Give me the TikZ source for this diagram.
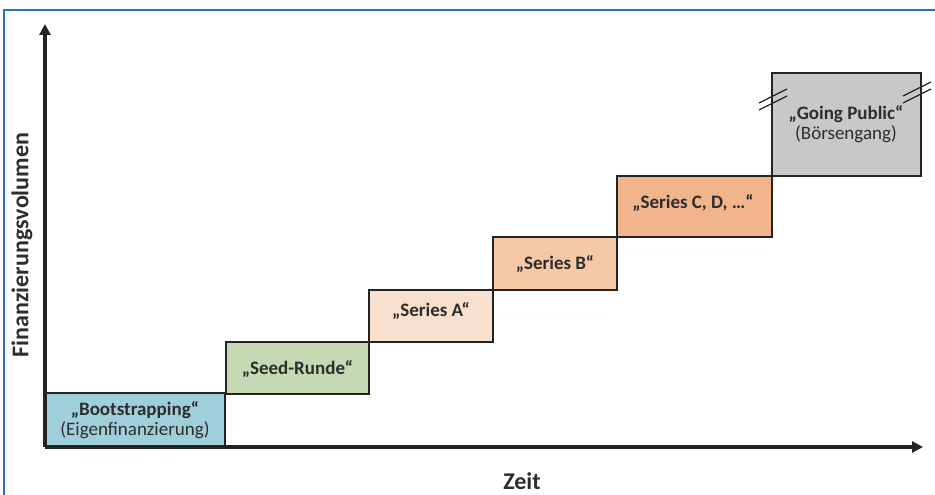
\documentclass[tikz,border=0pt]{standalone}
\usepackage{fontspec}
\setmainfont{Carlito}
\usetikzlibrary{arrows.meta}
\definecolor{frameblue}{RGB}{40,115,195}
\definecolor{axisgray}{RGB}{35,35,35}
\definecolor{txt}{RGB}{45,45,45}
\definecolor{cboot}{RGB}{160,207,220}
\definecolor{cseed}{RGB}{197,217,180}
\definecolor{cA}{RGB}{248,224,206}
\definecolor{cB}{RGB}{246,200,168}
\definecolor{cC}{RGB}{242,180,140}
\definecolor{cgo}{RGB}{200,200,200}
\tikzset{
  stage/.style={draw=axisgray, line width=2.2pt},
  stagetext/.style={align=center, text=txt, font=\fontsize{19}{22}\selectfont},
  axisline/.style={draw=axisgray, line width=3.5pt, -{Triangle[length=11pt,width=11pt]}},
  breakmark/.style={draw=axisgray, line width=1.3pt},
  axislabel/.style={font=\fontsize{24}{28}\selectfont\bfseries, text=txt},
}
\begin{document}
\begin{tikzpicture}[x=1pt,y=-1pt]
\useasboundingbox (0,0) rectangle (935,495);
% frame
\draw[frameblue, line width=2pt] (4,495) -- (4,10) -- (935,10);
% boxes
\path[stage, fill=cboot] (45,393) rectangle (225,446);
\node[stagetext] (boot) at (135,420) {\textbf{„Bootstrapping“}\\[-2pt](Eigenfinanzierung)};
\path[stage, fill=cseed] (226,342) rectangle (369,394);
\node[stagetext, font=\fontsize{19}{22}\selectfont\bfseries] (seed) at (297.5,369) {„Seed-Runde“};
\path[stage, fill=cA] (369,290) rectangle (493,342);
\node[stagetext, font=\fontsize{19}{22}\selectfont\bfseries] (sa) at (431,311) {„Series A“};
\path[stage, fill=cB] (493,237) rectangle (617,290);
\node[stagetext, font=\fontsize{19}{22}\selectfont\bfseries] (sb) at (555,264) {„Series B“};
\path[stage, fill=cC] (617,176) rectangle (772,237);
\node[stagetext, font=\fontsize{19}{22}\selectfont\bfseries] (sc) at (693,203) {„Series C, D, …“};
\path[stage, fill=cgo] (772,73) rectangle (921,176);
\node[stagetext] (go) at (846,124) {\textbf{„Going Public“}\\[-2pt](Börsengang)};
% break marks
\coordinate (bl) at (773,97);
\coordinate (br) at (917,90);
\draw[breakmark] ([shift={(-14,6)}]bl) -- ([shift={(14,-8)}]bl);
\draw[breakmark] ([shift={(-14,13)}]bl) -- ([shift={(14,-1)}]bl);
\draw[breakmark] ([shift={(-14,6)}]br) -- ([shift={(14,-8)}]br);
\draw[breakmark] ([shift={(-14,13)}]br) -- ([shift={(14,-1)}]br);
% axes
\coordinate (o) at (45,447);
\coordinate (ytip) at (45,24);
\coordinate (xtip) at (923,447);
\draw[axisline] (o) -- (ytip);
\draw[axisline] (o) -- (xtip);
\node[rotate=90, axislabel] (ylab) at (22,245) {Finanzierungsvolumen};
\node[axislabel] (xlab) at (522,481) {Zeit};
\end{tikzpicture}
\end{document}
